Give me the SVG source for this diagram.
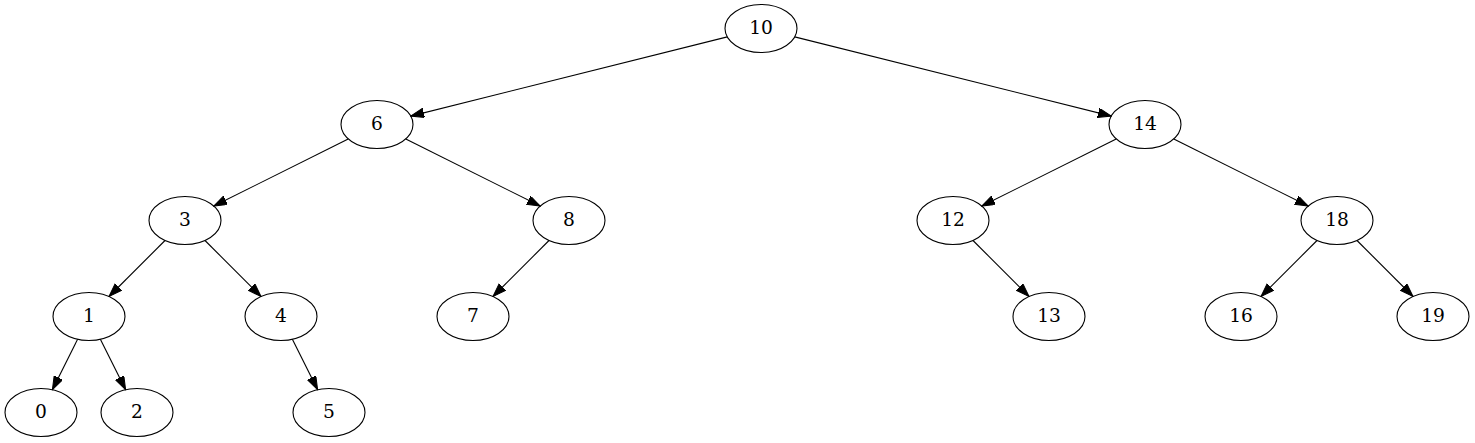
<svg xmlns="http://www.w3.org/2000/svg" width="1475" height="443" viewBox="0 0 1475 443">
<style>
.n ellipse{fill:none;stroke:#000;stroke-width:1.1}
.n text{font-family:"DejaVu Serif",serif;font-size:18.67px;text-anchor:middle;fill:#000}
#edges line{stroke:#000;stroke-width:1.1;marker-end:url(#ah)}
</style>
<defs>
<marker id="ah" markerUnits="userSpaceOnUse" markerWidth="14" markerHeight="10" refX="13.3" refY="4.67" orient="auto">
<path d="M0,0 L13.3,4.67 L0,9.33 z" fill="#000" stroke="#000" stroke-width="1"/>
</marker>
</defs>
<rect width="1475" height="443" fill="#fff"/>
<g id="edges">
<line x1="727.3" y1="36.9" x2="410.7" y2="116.1"/>
<line x1="794.7" y1="36.9" x2="1111.3" y2="116.1"/>
<line x1="348.2" y1="138.9" x2="213.8" y2="206.1"/>
<line x1="405.8" y1="138.9" x2="540.2" y2="206.1"/>
<line x1="1116.2" y1="138.9" x2="981.8" y2="206.1"/>
<line x1="1173.8" y1="138.9" x2="1308.2" y2="206.1"/>
<line x1="165" y1="240.5" x2="109" y2="296.5"/>
<line x1="205" y1="240.5" x2="261" y2="296.5"/>
<line x1="549" y1="240.5" x2="493" y2="296.5"/>
<line x1="973" y1="240.5" x2="1029" y2="296.5"/>
<line x1="1317" y1="240.5" x2="1261" y2="296.5"/>
<line x1="1357" y1="240.5" x2="1413" y2="296.5"/>
<line x1="77.6" y1="339.3" x2="52.4" y2="389.7"/>
<line x1="100.4" y1="339.3" x2="125.6" y2="389.7"/>
<line x1="292.4" y1="339.3" x2="317.6" y2="389.7"/>
</g>
<g id="n10" class="n"><ellipse cx="761" cy="28.5" rx="36" ry="24"/><text x="761" y="34">10</text></g>
<g id="n6" class="n"><ellipse cx="377" cy="124.5" rx="36" ry="24"/><text x="377" y="130">6</text></g>
<g id="n14" class="n"><ellipse cx="1145" cy="124.5" rx="36" ry="24"/><text x="1145" y="130">14</text></g>
<g id="n3" class="n"><ellipse cx="185" cy="220.5" rx="36" ry="24"/><text x="185" y="226">3</text></g>
<g id="n8" class="n"><ellipse cx="569" cy="220.5" rx="36" ry="24"/><text x="569" y="226">8</text></g>
<g id="n12" class="n"><ellipse cx="953" cy="220.5" rx="36" ry="24"/><text x="953" y="226">12</text></g>
<g id="n18" class="n"><ellipse cx="1337" cy="220.5" rx="36" ry="24"/><text x="1337" y="226">18</text></g>
<g id="n1" class="n"><ellipse cx="89" cy="316.5" rx="36" ry="24"/><text x="89" y="322">1</text></g>
<g id="n4" class="n"><ellipse cx="281" cy="316.5" rx="36" ry="24"/><text x="281" y="322">4</text></g>
<g id="n7" class="n"><ellipse cx="473" cy="316.5" rx="36" ry="24"/><text x="473" y="322">7</text></g>
<g id="n13" class="n"><ellipse cx="1049" cy="316.5" rx="36" ry="24"/><text x="1049" y="322">13</text></g>
<g id="n16" class="n"><ellipse cx="1241" cy="316.5" rx="36" ry="24"/><text x="1241" y="322">16</text></g>
<g id="n19" class="n"><ellipse cx="1433" cy="316.5" rx="36" ry="24"/><text x="1433" y="322">19</text></g>
<g id="n0" class="n"><ellipse cx="41" cy="412.5" rx="36" ry="24"/><text x="41" y="418">0</text></g>
<g id="n2" class="n"><ellipse cx="137" cy="412.5" rx="36" ry="24"/><text x="137" y="418">2</text></g>
<g id="n5" class="n"><ellipse cx="329" cy="412.5" rx="36" ry="24"/><text x="329" y="418">5</text></g>
</svg>
